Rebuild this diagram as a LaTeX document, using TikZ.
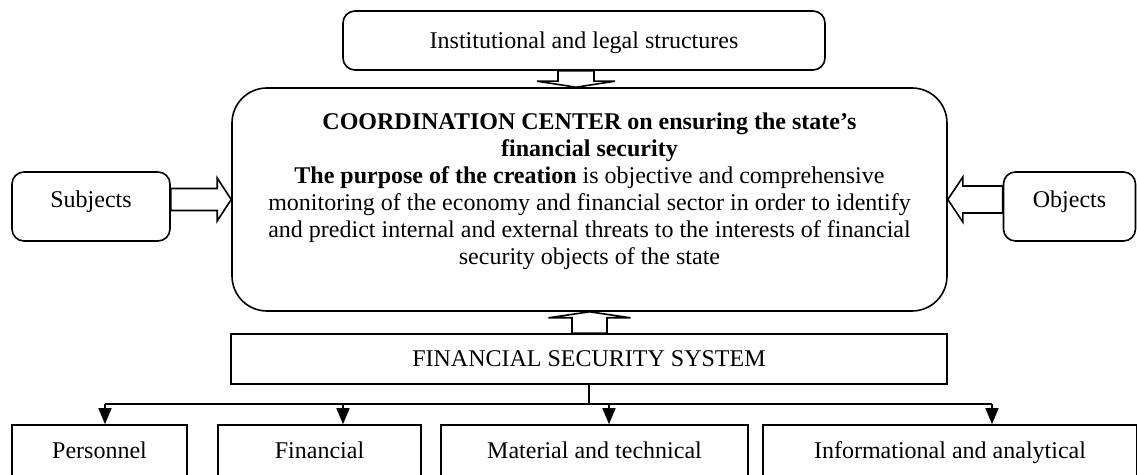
\documentclass[tikz,border=0pt]{standalone}
\usepackage{fontspec}
\setmainfont{Liberation Serif}
\usetikzlibrary{arrows.meta}

\tikzset{
  box/.style={draw, line width=0.8pt, inner sep=0pt, align=center,
    text height=10.5pt, text depth=2.6pt,
    font=\fontsize{12}{13.5}\selectfont},
  rbox/.style={box, rounded corners=6pt},
  blk/.style={draw, line width=0.8pt, line join=miter},
  tip/.style={-{Triangle[length=8pt,width=6.5pt]}, line width=0.8pt}
}

\begin{document}
\begin{tikzpicture}[x=1pt,y=1pt]
  \useasboundingbox (0,0) rectangle (568.5,-237.5);

  % top, centre and side boxes
  \node[rbox, minimum width=241pt, minimum height=29.5pt] (inst) at (292,-20.25) {Institutional and legal structures};
  \node[box, rounded corners=17.5pt, minimum width=357.5pt, minimum height=111.5pt] (cc) at (294.75,-99.75) {};
  \node[align=center, font=\fontsize{12}{13.5}\selectfont] (cctext) at (294.75,-95.5)
    {\textbf{COORDINATION CENTER on ensuring the state’s}\\
     \textbf{financial security}\\
     \textbf{The purpose of the creation} is objective and comprehensive\\
     monitoring of the economy and financial sector in order to identify\\
     and predict internal and external threats to the interests of financial\\
     security objects of the state};
  \node[rbox, minimum width=79pt, minimum height=34.5pt, text height=8.5pt, text depth=7.5pt] (subj) at (45.5,-103.25) {Subjects};
  \node[rbox, minimum width=66pt, minimum height=34.5pt, text height=8.5pt, text depth=7.5pt] (obj) at (534.75,-103.25) {Objects};
  \node[box, minimum width=358pt, minimum height=25pt] (fss) at (294.5,-179.5) {FINANCIAL SECURITY SYSTEM};

  % bottom row, cut by the lower edge
  \node[box, minimum width=87.5pt, minimum height=26pt] (pers) at (49.75,-225.5) {Personnel};
  \node[box, minimum width=101.5pt, minimum height=26pt] (fin) at (159.75,-225.5) {Financial};
  \node[box, minimum width=153.5pt, minimum height=26pt] (mat) at (297.25,-225.5) {Material and technical};
  \node[box, minimum width=187pt, minimum height=26pt] (info) at (475,-225.5) {Informational and analytical};

  % hollow arrows
  \coordinate (ta) at ([xshift=-6.75pt]cc.north);
  \draw[blk] (ta) -- ++(19.5,3) -- ++(-10.5,0) coordinate (a1) -- (a1 |- inst.south)
    -- ++(-18,0) coordinate (a2) -- (a2 |- a1) -- ++(-10.5,0) -- cycle;
  \draw[blk] (cc.south) -- ++(20.5,-3) -- ++(-11.75,0) coordinate (b1) -- (b1 |- fss.north)
    -- ++(-17.5,0) coordinate (b2) -- (b2 |- b1) -- ++(-11.75,0) -- cycle;
  \draw[blk] (cc.west) -- ++(-7,10.75) -- ++(0,-5.25) coordinate (c1) -- (c1 -| subj.east)
    -- ++(0,-11) coordinate (c2) -- (c2 -| c1) -- ++(0,-5.25) -- cycle;
  \draw[blk] (cc.east) -- ++(7.5,11.25) -- ++(0,-4.5) coordinate (d1) -- (d1 -| obj.west)
    -- ++(0,-13.5) coordinate (d2) -- (d2 -| d1) -- ++(0,-4.5) -- cycle;

  % tree to the bottom row
  \coordinate (bus) at ([yshift=-9.5pt]fss.south);
  \foreach \n/\dx in {pers/2.75, fin/11.75, mat/7.25, info/21}
    \coordinate (t\n) at ([xshift=\dx pt]\n.north);
  \draw[line width=0.8pt] (fss.south) -- (bus);
  \draw[line width=0.8pt] (tpers |- bus) -- (tinfo |- bus);
  \foreach \n in {pers,fin,mat,info}
    \draw[tip] (t\n |- bus) -- (t\n);
\end{tikzpicture}
\end{document}
